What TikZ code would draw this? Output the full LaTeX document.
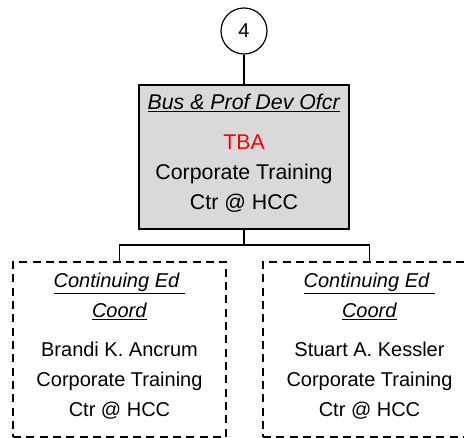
\documentclass[tikz,border=0pt]{standalone}
\usepackage{fontspec}
\setmainfont{Liberation Sans}
\newcommand{\orgfont}{\fontsize{15}{22.5}\selectfont}
\newcommand{\ofcrfont}{\fontsize{16}{22.5}\selectfont}

\begin{document}
\begin{tikzpicture}[x=0.75pt, y=-0.75pt,
    ofcrbox/.style={draw, line width=1.25pt, fill=black!15, align=center,
        minimum width=157.5pt, minimum height=108pt, inner sep=0pt, font=\ofcrfont},
    staffbox/.style={draw, line width=1.2pt, dash pattern=on 6pt off 4pt, align=center,
        minimum width=159.75pt, minimum height=131.25pt, inner sep=0pt, font=\orgfont},
    link/.style={line width=1.1pt}]
    \useasboundingbox (0,0) rectangle (464,438);
    \clip (0,0) rectangle (464,438);

    % Verweis auf Seite 4
    \node[draw, circle, line width=0.9pt, minimum size=34.5pt, inner sep=0pt, font=\orgfont] (page4) at (244,31) {4};

    % Leitung
    \node[ofcrbox] (ofcr) at (244,157) {
        \underline{\textit{Bus \& Prof Dev Ofcr}}\\[7.5pt]
        \textcolor{red}{TBA}\\
        Corporate Training\\
        Ctr @ HCC\rule[-8pt]{0pt}{0pt}
    };
    \draw[link] (page4) -- (ofcr);

    % Koordinatoren
    \node[staffbox] (coord1) at (119.5,349.5) {
        \underline{\textit{Continuing Ed }}\\
        \underline{\textit{Coord}}\\[6.75pt]
        Brandi K. Ancrum\\
        Corporate Training\\
        Ctr @ HCC\rule[-7pt]{0pt}{0pt}
    };
    \node[staffbox] (coord2) at (369.5,349.5) {
        \underline{\textit{Continuing Ed }}\\
        \underline{\textit{Coord}}\\[6.75pt]
        Stuart A. Kessler\\
        Corporate Training\\
        Ctr @ HCC\rule[-7pt]{0pt}{0pt}
    };

    \coordinate (bus) at (244,245);
    \draw[link] (ofcr.south) -- (bus);
    \draw[link] (bus) -| (coord1.north);
    \draw[link] (bus) -| (coord2.north);
\end{tikzpicture}
\end{document}
